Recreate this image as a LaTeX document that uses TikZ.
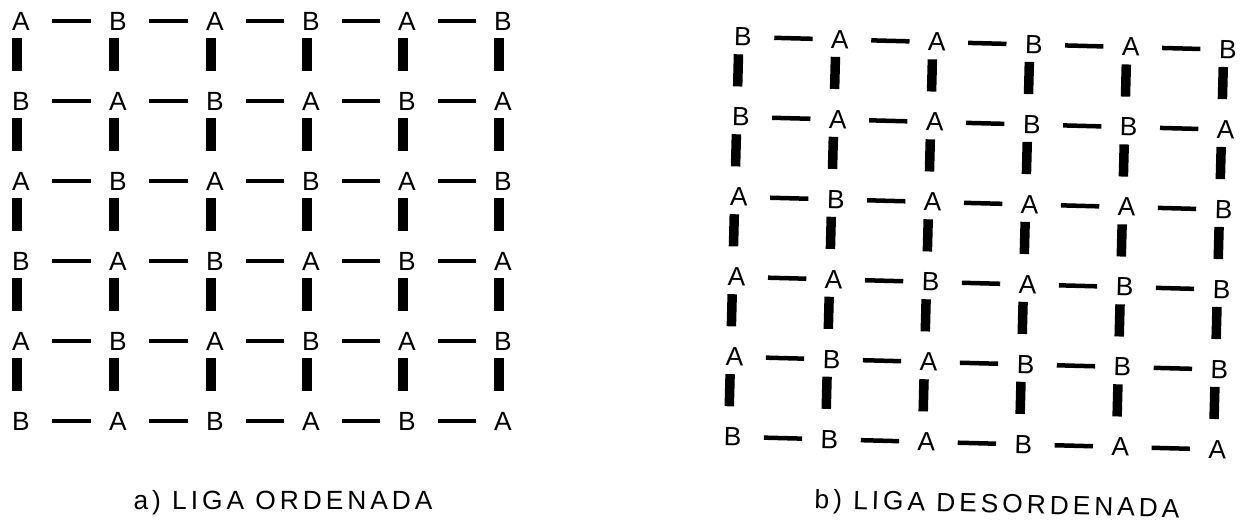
\documentclass[tikz,border=0pt]{standalone}
\usepackage{fontspec}
\setmainfont{Liberation Sans}
\newfontfamily\capfont[LetterSpace=15]{Liberation Sans}
\usepackage{tikz}
\tikzstyle{site} = [rectangle, inner sep=0pt, minimum width=0.36cm, minimum height=0.36cm, font=\fontsize{15}{17}\selectfont]
\tikzstyle{hbond} = [line width=0.09cm, shorten <=0.44cm, shorten >=0.36cm]
\tikzstyle{vbond} = [line width=0.19cm, shorten <=0.16cm, shorten >=0.42cm]
\tikzstyle{caption} = [inner sep=0pt, font=\capfont\fontsize{15}{17}\selectfont]

\begin{document}
\begin{tikzpicture}[x=0.02cm, y=-0.02cm]
\useasboundingbox (0,0) rectangle (1248,530);
% a) ordered alloy, A and B alternate on every row and column
% Row 1
\node[site] (l11) at (21, 21) {A};
\node[site] (l12) at (118, 21) {B};
\node[site] (l13) at (215, 21) {A};
\node[site] (l14) at (311, 21) {B};
\node[site] (l15) at (407, 21) {A};
\node[site] (l16) at (503, 21) {B};
% Row 2
\node[site] (l21) at (21, 101) {B};
\node[site] (l22) at (118, 101) {A};
\node[site] (l23) at (215, 101) {B};
\node[site] (l24) at (311, 101) {A};
\node[site] (l25) at (407, 101) {B};
\node[site] (l26) at (503, 101) {A};
% Row 3
\node[site] (l31) at (21, 181) {A};
\node[site] (l32) at (118, 181) {B};
\node[site] (l33) at (215, 181) {A};
\node[site] (l34) at (311, 181) {B};
\node[site] (l35) at (407, 181) {A};
\node[site] (l36) at (503, 181) {B};
% Row 4
\node[site] (l41) at (21, 261) {B};
\node[site] (l42) at (118, 261) {A};
\node[site] (l43) at (215, 261) {B};
\node[site] (l44) at (311, 261) {A};
\node[site] (l45) at (407, 261) {B};
\node[site] (l46) at (503, 261) {A};
% Row 5
\node[site] (l51) at (21, 341) {A};
\node[site] (l52) at (118, 341) {B};
\node[site] (l53) at (215, 341) {A};
\node[site] (l54) at (311, 341) {B};
\node[site] (l55) at (407, 341) {A};
\node[site] (l56) at (503, 341) {B};
% Row 6
\node[site] (l61) at (21, 421) {B};
\node[site] (l62) at (118, 421) {A};
\node[site] (l63) at (215, 421) {B};
\node[site] (l64) at (311, 421) {A};
\node[site] (l65) at (407, 421) {B};
\node[site] (l66) at (503, 421) {A};
% Bonds
\foreach \r in {1,...,6}
  \foreach \c [count=\n from 2] in {1,...,5}
    \draw[hbond] (l\r\c) -- (l\r\n);
\foreach \r [count=\s from 2] in {1,...,5}
  \foreach \c in {1,...,6}
    \draw[vbond] ([xshift=-0.08cm]l\r\c.south) -- ([xshift=-0.08cm]l\s\c.north);
\node[caption] (capa) at (283, 503) {a) LIGA ORDENADA};
% b) disordered alloy, sheet is slightly tilted
\begin{scope}[rotate around={-1.5:(743, 37)}, transform shape]
% Row 1
\node[site] (r11) at (743, 37) {B};
\node[site] (r12) at (840, 37) {A};
\node[site] (r13) at (937, 37) {A};
\node[site] (r14) at (1034, 37) {B};
\node[site] (r15) at (1131, 37) {A};
\node[site] (r16) at (1228, 37) {B};
% Row 2
\node[site] (r21) at (743, 117) {B};
\node[site] (r22) at (840, 117) {A};
\node[site] (r23) at (937, 117) {A};
\node[site] (r24) at (1034, 117) {B};
\node[site] (r25) at (1131, 117) {B};
\node[site] (r26) at (1228, 117) {A};
% Row 3
\node[site] (r31) at (743, 197) {A};
\node[site] (r32) at (840, 197) {B};
\node[site] (r33) at (937, 197) {A};
\node[site] (r34) at (1034, 197) {A};
\node[site] (r35) at (1131, 197) {A};
\node[site] (r36) at (1228, 197) {B};
% Row 4
\node[site] (r41) at (743, 277) {A};
\node[site] (r42) at (840, 277) {A};
\node[site] (r43) at (937, 277) {B};
\node[site] (r44) at (1034, 277) {A};
\node[site] (r45) at (1131, 277) {B};
\node[site] (r46) at (1228, 277) {B};
% Row 5
\node[site] (r51) at (743, 357) {A};
\node[site] (r52) at (840, 357) {B};
\node[site] (r53) at (937, 357) {A};
\node[site] (r54) at (1034, 357) {B};
\node[site] (r55) at (1131, 357) {B};
\node[site] (r56) at (1228, 357) {B};
% Row 6
\node[site] (r61) at (743, 437) {B};
\node[site] (r62) at (840, 437) {B};
\node[site] (r63) at (937, 437) {A};
\node[site] (r64) at (1034, 437) {B};
\node[site] (r65) at (1131, 437) {A};
\node[site] (r66) at (1228, 437) {A};
% Bonds
\foreach \r in {1,...,6}
  \foreach \c [count=\n from 2] in {1,...,5}
    \draw[hbond] (r\r\c) -- (r\r\n);
\foreach \r [count=\s from 2] in {1,...,5}
  \foreach \c in {1,...,6}
    \draw[vbond] ([xshift=-0.08cm]r\r\c.south) -- ([xshift=-0.08cm]r\s\c.north);
\end{scope}
\node[caption, rotate=-1.5] (capb) at (997, 506) {b) LIGA DESORDENADA};
\end{tikzpicture}
\end{document}
